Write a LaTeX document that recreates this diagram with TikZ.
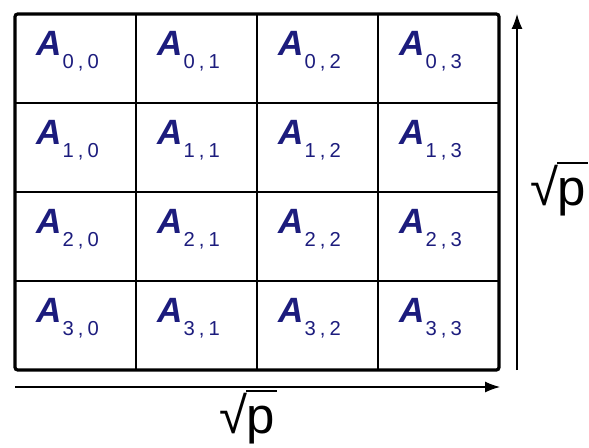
\documentclass[tikz,border=0pt]{standalone}
\usepackage{fontspec}
\setmainfont{Liberation Sans}
\usepackage{tikz}
\usetikzlibrary{arrows.meta}

\definecolor{blockblue}{RGB}{28,28,125}
% one block label, A with its row and column
\newcommand{\blk}[2]{{\fontsize{20}{22}\selectfont\bfseries\itshape A}%
  \kern0.05em\raisebox{-7.4pt}{\fontsize{11.5}{13}\selectfont #1\kern0.2em,\kern0.2em#2}}
% square root of p, with its bar
\newcommand{\rootp}{√\kern-0.02em\rlap{\rule[0.8em]{0.6em}{0.05em}}p}

\tikzset{
  block/.style={anchor=base west,inner sep=0pt,text=blockblue},
  dimline/.style={-{Latex[length=0.3cm,width=0.22cm]},line width=0.7pt},
  dimtext/.style={font=\fontsize{29}{30}\selectfont,inner sep=0pt}
}

\begin{document}
\begin{tikzpicture}[>=Latex]
  \useasboundingbox (0,0) rectangle (11.78,8.94);

  % grid of 4x4 blocks
  \coordinate (sw) at (0.30,1.54);
  \coordinate (ne) at (9.98,8.66);
  \foreach \k in {1,2,3} {
    \draw[line width=0.8pt] ({0.30+2.42*\k},1.54) -- ({0.30+2.42*\k},8.66);
    \draw[line width=0.8pt] (0.30,{8.66-1.78*\k}) -- (9.98,{8.66-1.78*\k});
  }
  \draw[line width=1.8pt,rounded corners=1.5pt] (sw) rectangle (ne);

  \foreach \r in {0,...,3}
    \foreach \c in {0,...,3}
      \node[block] (a\r\c) at ({0.72+2.42*\c},{7.84-1.78*\r}) {\blk{\r}{\c}};

  % dimension arrows
  \coordinate (xs) at (0.30,1.20);
  \coordinate (xe) at (10.00,1.20);
  \coordinate (ys) at (10.34,1.54);
  \coordinate (ye) at (10.34,8.66);
  \draw[dimline] (xs) -- (xe);
  \draw[dimline] (ys) -- (ye);
  \node[dimtext,anchor=base] (xlabel) at (4.94,0.28) {\rootp};
  \node[dimtext,anchor=base west] (ylabel) at (10.60,4.84) {\rootp};
\end{tikzpicture}
\end{document}
